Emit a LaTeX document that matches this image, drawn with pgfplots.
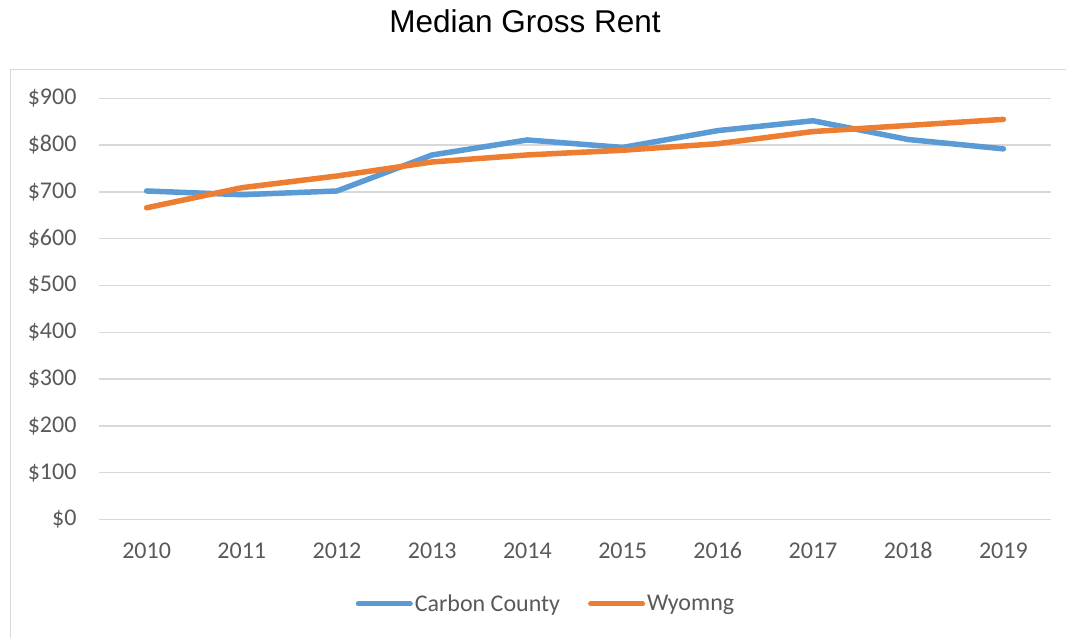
\documentclass[border=0pt]{standalone}
\usepackage{pgfplots}
\pgfplotsset{compat=1.18}
\usepackage{fontspec}
\setmainfont{Carlito}
\newfontfamily\titlefont{Liberation Sans}
\definecolor{cblue}{HTML}{5B9BD5}
\definecolor{corange}{HTML}{ED7D31}
\definecolor{gridc}{HTML}{D9D9D9}
\definecolor{txt}{HTML}{595959}
\begin{document}
\begin{tikzpicture}[x=1pt,y=1pt]
\draw[gridc, line width=1.5pt] (10.5,0) -- (10.5,568.7) -- (1066,568.7);
\node[anchor=base, font=\titlefont\fontsize{31.5}{36}\selectfont, text=black, inner sep=0pt] at (525,605) {Median Gross Rent};
\begin{axis}[
  at={(99pt,118.5pt)}, anchor=south west,
  scale only axis, width=952pt, height=421.2pt,
  xmin=-0.5, xmax=9.5, ymin=0, ymax=900,
  xtick={0,...,9},
  xticklabels={2010,2011,2012,2013,2014,2015,2016,2017,2018,2019},
  ytick={0,100,...,900},
  yticklabel={\$\pgfmathprintnumber{\tick}},
  /pgf/number format/assume math mode=true,
  ymajorgrids, grid style={gridc, line width=1.5pt},
  axis line style={draw=none},
  major tick length=0pt,
  tick label style={font=\fontsize{24}{28}\selectfont, text=txt},
  yticklabel style={anchor=east, xshift=-19pt},
  xticklabel style={anchor=base, yshift=-38.5pt},
  legend columns=2,
  legend style={at={(0.4695,-0.2006)}, anchor=center, draw=none, fill=none,
    font=\fontsize{24}{28}\selectfont, text=txt,
    /tikz/every even column/.append style={column sep=26pt},
    nodes={inner sep=2pt}},
  legend image code/.code={\draw[#1, line width=5pt, line cap=round] (0pt,0pt) -- (52pt,0pt);},
]
\addplot[cblue, line width=5.5pt, line join=round, line cap=round] coordinates {
 (0,702) (1,694) (2,702) (3,779) (4,811) (5,795) (6,831) (7,852) (8,812) (9,792)};
\addlegendentry{Carbon County}
\addplot[corange, line width=5.5pt, line join=round, line cap=round] coordinates {
 (0,666) (1,709) (2,734) (3,764) (4,779) (5,789) (6,803) (7,829) (8,842) (9,855)};
\addlegendentry{Wyomng}
\end{axis}
\pgfresetboundingbox
\path[use as bounding box] (0,0) rectangle (1066,638);
\end{tikzpicture}
\end{document}
